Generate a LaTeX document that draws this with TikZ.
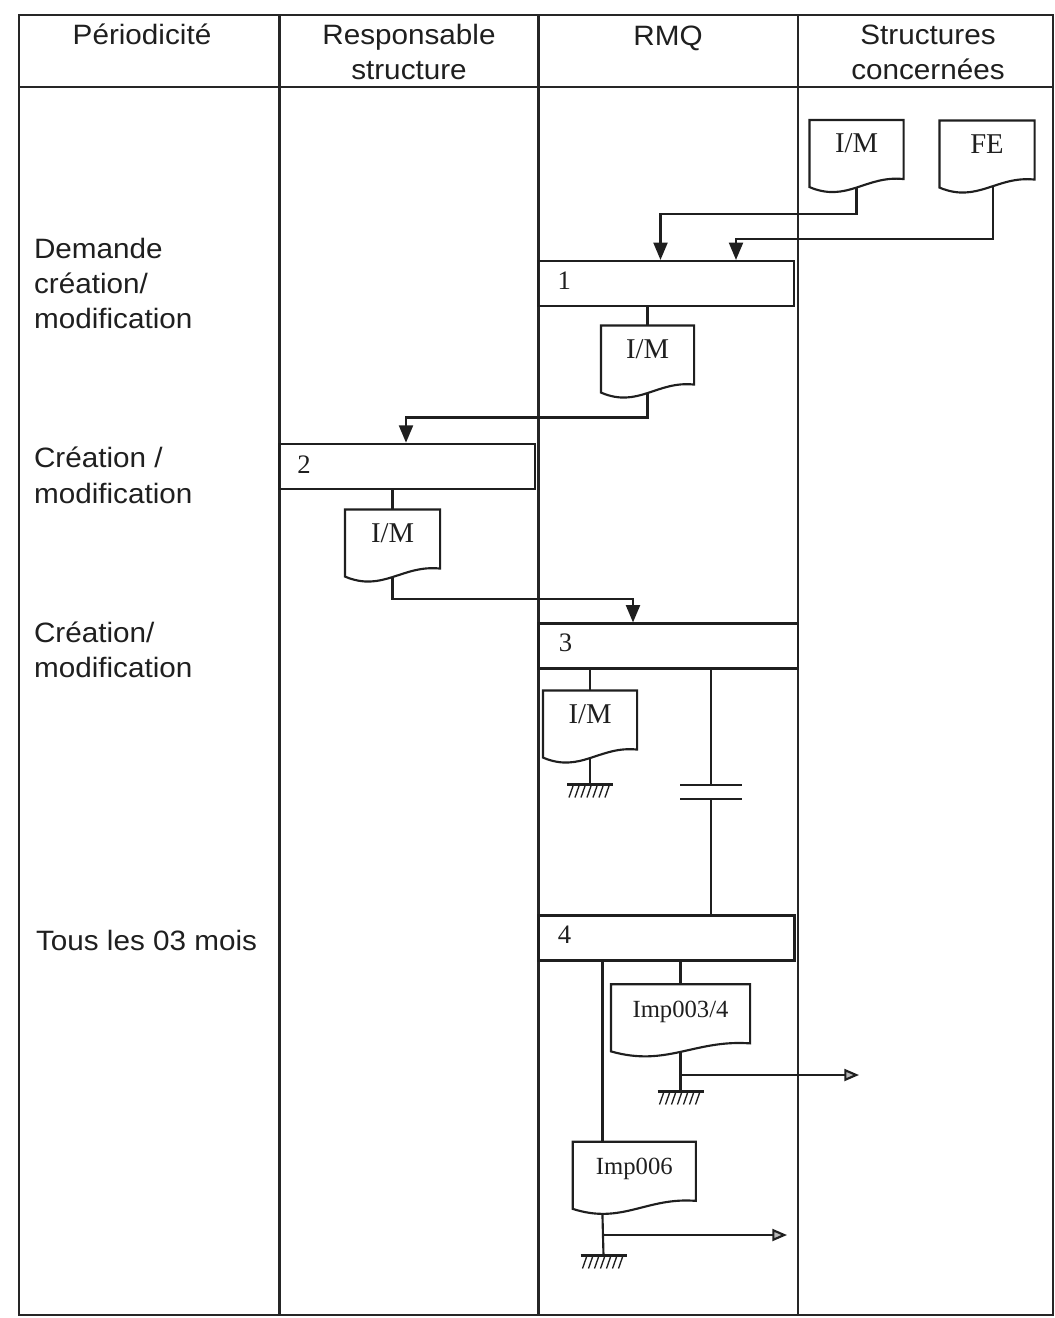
\documentclass[tikz,border=0pt]{standalone}
\usepackage{fontspec}
\usetikzlibrary{calc,arrows.meta}
\newfontfamily\lblfont[FakeStretch=1.06]{Liberation Sans}
\newfontfamily\docfont{Liberation Serif}

% document symbol: straight top and sides, wavy bottom (left side longer)
\newcommand\docoutline[1]{%
  \draw (#1.north west) -- (#1.north east) -- ($(#1.south east)+(0,2)$)
    .. controls ($(#1.south west)!0.6!(#1.south east)+(0,-2)$)
    and ($(#1.south west)!0.4!(#1.south east)+(0,26)$)
    .. ($(#1.south west)+(0,10)$) -- cycle;}

\tikzset{
  rule/.style={line width=1.6pt, black!85},
  hdr/.style={font=\lblfont\fontsize{21}{25}\selectfont, anchor=base, inner sep=0pt},
  side/.style={font=\lblfont\fontsize{21}{25}\selectfont, anchor=base west, inner sep=0pt},
  stepbox/.style={draw, rectangle, minimum width=192pt, minimum height=33.75pt, inner sep=0pt},
  num/.style={font=\docfont\fontsize{20}{22}\selectfont, inner sep=0pt},
  doc/.style={rectangle, inner sep=0pt, minimum height=41.25pt,
    font=\docfont\fontsize{21.5}{25}\selectfont, text height=0.66em, text depth=0pt},
  docsmall/.style={font=\docfont\fontsize{18.5}{22}\selectfont},
  flow/.style={-{Triangle[length=13pt,width=10.5pt]}},
  outflow/.style={-{Triangle[length=11pt,width=9pt,fill=gray!55]}},
  earth/.pic={
    \draw (-23,0) -- (23,0);
    \foreach \i in {0,...,6}
      \draw[line width=1pt] (-17+6*\i,1.5) -- (-21+6*\i,13);
  }
}

\begin{document}
\begin{tikzpicture}[x=0.75pt,y=-0.75pt,line width=1.6pt,black!88]
\useasboundingbox (0,0) rectangle (1055,1318);

% table frame and columns
\draw[rule] (19,15) rectangle (1053,1315);
\draw[rule] (19,87) -- (1053,87);
\foreach \cx in {279.5,538.5,798}
  \draw[rule] (\cx,15) -- (\cx,1315);

% column headers
\node[hdr] (hP)  at (142,44) {Périodicité};
\node[hdr] (hR1) at (409,44) {Responsable};
\node[hdr] (hR2) at (409,79) {structure};
\node[hdr] (hQ)  at (668,45) {RMQ};
\node[hdr] (hS1) at (928,44) {Structures};
\node[hdr] (hS2) at (928,79) {concernées};

% periodicity column
\node[side] (p1a) at (33,258) {Demande};
\node[side] (p1b) at (33,293) {création/};
\node[side] (p1c) at (33,328) {modification};
\node[side] (p2a) at (33,467) {Création /};
\node[side] (p2b) at (33,503) {modification};
\node[side] (p3a) at (33,642) {Création/};
\node[side] (p3b) at (33,677) {modification};
\node[side] (p4)  at (35,950) {Tous les 03 mois};

% process steps
\node[stepbox] (b1) at (666.25,283.5) {};
\node[stepbox] (b2) at (407,466.25) {};
\node[stepbox, minimum width=194.6pt] (b3) at (668.25,646) {};
\node[stepbox] (b4) at (666.5,938) {};
\node[num] (n1) at ($(b1.west)+(27,-3)$) {1};
\node[num] (n2) at ($(b2.west)+(26,-2)$) {2};
\node[num] (n3) at ($(b3.west)+(28,-3)$) {3};
\node[num] (n4) at ($(b4.west)+(27,-3)$) {4};

% documents
\node[doc, minimum width=69pt]    (dIM0)  at (856.5,148.5) {I/M};
\node[doc, minimum width=69.75pt] (dFE)   at (987,149) {FE};
\node[doc, minimum width=68.25pt] (dIM1)  at (647.5,354) {I/M};
\node[doc, minimum width=69.75pt] (dIM2)  at (392.5,538) {I/M};
\node[doc, minimum width=69pt]    (dIM3)  at (590,719) {I/M};
\node[doc, docsmall, minimum width=102.75pt] (dImp3) at (680.5,1012.8) {Imp003/4};
\node[doc, docsmall, minimum width=90.75pt]  (dImp6) at (634.3,1170.3) {Imp006};
\foreach \d in {dIM0,dFE,dIM1,dIM2,dIM3,dImp3,dImp6} {\docoutline{\d}}

% inputs to step 1
\coordinate (j1) at (660.5,214);
\coordinate (j2) at (736,239);
\draw[flow] ($(dIM0.south)+(0,10)$) |- (j1) -- (j1 |- b1.north);
\draw[flow] ($(dFE.south)+(6,9)$) |- (j2) -- (j2 |- b1.north);

% step 1 -> document -> step 2
\draw (dIM1.north |- b1.south) -- (dIM1.north);
\coordinate (j3) at (406,417.5);
\draw[flow] ($(dIM1.south)+(0,10)$) |- (j3) -- (j3 |- b2.north);

% step 2 -> document -> step 3
\draw (dIM2.north |- b2.south) -- (dIM2.north);
\coordinate (j4) at (633,599);
\draw[flow] ($(dIM2.south)+(0,10)$) |- (j4) -- (j4 |- b3.north);

% step 3 -> filed document
\draw (dIM3.north |- b3.south) -- (dIM3.north);
\coordinate (g1) at (590,784.5);
\draw ($(dIM3.south)+(0,10)$) -- (g1);
\pic at (g1) {earth};

% step 3 -> step 4 with time delay
\coordinate (k1) at (711.3,785);
\coordinate (k2) at (711.3,799);
\draw (k1 |- b3.south) -- (k1);
\draw ($(k1)+(-31,0)$) -- ($(k1)+(31,0)$);
\draw ($(k2)+(-31,0)$) -- ($(k2)+(31,0)$);
\draw (k2) -- (k2 |- b4.north);

% step 4 outputs
\draw (dImp3.north |- b4.south) -- (dImp3.north);
\coordinate (v6) at ($(dImp6.north west)+(29.7,0)$);
\draw (v6 |- b4.south) -- (v6);

\coordinate (g2) at (680.5,1091.5);
\coordinate (a3) at (859,1075);
\draw ($(dImp3.south)+(0,10)$) -- (g2);
\pic at (g2) {earth};
\draw[outflow] (a3 -| g2) -- (a3);

\coordinate (g3) at (603.5,1255.5);
\coordinate (a6) at (787,1235);
\draw ($(dImp6.south west)+(29.7,15)$) -- (g3);
\pic at (g3) {earth};
\draw[outflow] (a6 -| g3) -- (a6);
\end{tikzpicture}
\end{document}
